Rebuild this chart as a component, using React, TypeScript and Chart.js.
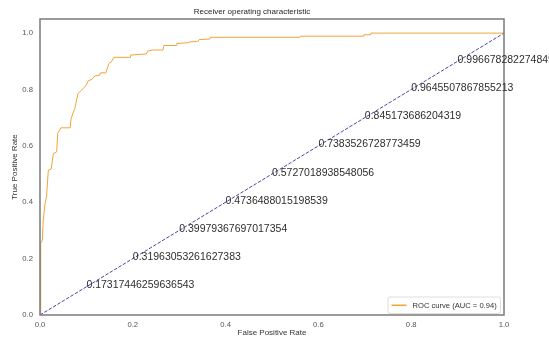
import React, { useEffect, useRef } from "react";
import { Chart, registerables } from "chart.js";

Chart.register(...registerables);

const chartTitle = "Receiver operating characteristic";
const xAxisTitle = "False Positive Rate";
const yAxisTitle = "True Positive Rate";
const rocLabel = "ROC curve (AUC = 0.94)";

const fpr = [
  0, 0.0015, 0.0015, 0.005, 0.007, 0.011, 0.014, 0.018, 0.024, 0.029, 0.036, 0.038, 0.045, 0.065,
  0.067, 0.075, 0.082, 0.09, 0.1, 0.104, 0.112, 0.118, 0.129, 0.13, 0.142, 0.145, 0.149, 0.154,
  0.159, 0.194, 0.195, 0.229, 0.232, 0.244, 0.265, 0.267, 0.294, 0.295, 0.319, 0.323, 0.34, 0.343,
  0.366, 0.367, 0.56, 0.561, 0.697, 0.698, 0.712, 0.713, 1.0,
];
const tpr = [
  0, 0.089, 0.254, 0.266, 0.337, 0.396, 0.42, 0.514, 0.518, 0.573, 0.579, 0.644, 0.664, 0.664,
  0.697, 0.733, 0.786, 0.798, 0.816, 0.831, 0.836, 0.848, 0.851, 0.859, 0.859, 0.875, 0.893, 0.898,
  0.914, 0.914, 0.922, 0.926, 0.936, 0.94, 0.94, 0.956, 0.956, 0.963, 0.966, 0.969, 0.97, 0.977,
  0.979, 0.985, 0.985, 0.989, 0.989, 0.994, 0.994, 1.0, 1.0,
];

const chanceX = [0, 1];
const chanceY = [0, 1];

const thresholdPos = [0.1, 0.2, 0.3, 0.4, 0.5, 0.6, 0.7, 0.8, 0.9];
const thresholdLabels = [
  "0.17317446259636543",
  "0.31963053261627383",
  "0.39979367697017354",
  "0.4736488015198539",
  "0.5727018938548056",
  "0.7383526728773459",
  "0.845173686204319",
  "0.9645507867855213",
  "0.9966782822748492",
];

const xTicks = [0, 0.2, 0.4, 0.6, 0.8, 1.0];
const yTicks = [0, 0.2, 0.4, 0.6, 0.8, 1.0];
const xRange = [0, 1.0];
const yRange = [0, 1.05];

const FONT = "'Liberation Sans', Arial, sans-serif";

const frameAndAnnotations = {
  id: "frameAndAnnotations",
  afterDraw(chart: any) {
    const { ctx, chartArea, scales } = chart;
    const xs = scales.x;
    const ys = scales.y;
    ctx.save();
    // frame
    ctx.strokeStyle = "#7a7a7a";
    ctx.lineWidth = 1.5;
    ctx.strokeRect(
      chartArea.left,
      chartArea.top,
      chartArea.right - chartArea.left,
      chartArea.bottom - chartArea.top
    );
    // threshold labels
    ctx.fillStyle = "#2e2e2e";
    ctx.font = `10.5px ${FONT}`;
    ctx.textAlign = "left";
    ctx.textBaseline = "alphabetic";
    thresholdPos.forEach((v, i) => {
      const px = xs.getPixelForValue(v);
      const py = ys.getPixelForValue(v);
      ctx.fillText(thresholdLabels[i], px, py + 1.5);
    });
    // legend
    const ds = chart.data.datasets[0];
    const lx = chartArea.right - 116;
    const ly = chartArea.bottom - 18;
    const lw = 112.5;
    const lh = 16.5;
    ctx.beginPath();
    ctx.roundRect(lx, ly, lw, lh, 2);
    ctx.fillStyle = "rgba(255,255,255,0.85)";
    ctx.fill();
    ctx.strokeStyle = "#d6d6d6";
    ctx.lineWidth = 0.8;
    ctx.stroke();
    ctx.beginPath();
    ctx.moveTo(lx + 3.5, ly + lh / 2);
    ctx.lineTo(lx + 18.5, ly + lh / 2);
    ctx.strokeStyle = ds.borderColor;
    ctx.lineWidth = 1.5;
    ctx.stroke();
    ctx.fillStyle = "#333";
    ctx.font = `7.6px ${FONT}`;
    ctx.textBaseline = "middle";
    ctx.fillText(ds.label, lx + 24.5, ly + lh / 2 + 0.5);
    ctx.restore();
  },
};

export default function App() {
  const ref = useRef<HTMLCanvasElement | null>(null);

  useEffect(() => {
    document.body.style.margin = "0";
    const canvas = ref.current;
    if (!canvas) return;
    Chart.defaults.font.family = FONT;
    const chart = new Chart(canvas, {
      type: "line",
      data: {
        datasets: [
          {
            label: rocLabel,
            data: fpr.map((x, i) => ({ x, y: tpr[i] })),
            borderColor: "#f2a33a",
            borderWidth: 1,
            pointRadius: 0,
            tension: 0,
            fill: false,
          },
          {
            label: "chance",
            data: chanceX.map((x, i) => ({ x, y: chanceY[i] })),
            borderColor: "#4646a6",
            borderWidth: 1,
            borderDash: [3.5, 1.6],
            pointRadius: 0,
            fill: false,
          },
        ],
      },
      options: {
        responsive: false,
        animation: false,
        events: [],
        layout: { padding: { left: 0, right: 45, top: 0, bottom: 0 } },
        plugins: {
          legend: { display: false },
          tooltip: { enabled: false },
          title: {
            display: true,
            text: chartTitle,
            color: "#262626",
            font: { size: 8, weight: "normal", family: FONT, lineHeight: 1.2 },
            padding: { top: 7, bottom: 2.4 },
          },
        },
        scales: {
          x: {
            type: "linear",
            min: xRange[0],
            max: xRange[1],
            afterFit(scale: any) {
              scale.height = 23;
            },
            afterBuildTicks(scale: any) {
              scale.ticks = xTicks.map((v) => ({ value: v }));
            },
            grid: { display: false, drawTicks: false },
            border: { display: false },
            ticks: {
              color: "#555",
              font: { size: 7.7 },
              padding: 5,
              maxRotation: 0,
              callback: (v: any) => Number(v).toFixed(1),
            },
            title: {
              display: true,
              text: xAxisTitle,
              color: "#333",
              font: { size: 8 },
              padding: { top: 0, bottom: 0 },
            },
          },
          y: {
            type: "linear",
            min: yRange[0],
            max: yRange[1],
            afterFit(scale: any) {
              scale.width = 40;
            },
            afterBuildTicks(scale: any) {
              scale.ticks = yTicks.map((v) => ({ value: v }));
            },
            grid: { display: false, drawTicks: false },
            border: { display: false },
            ticks: {
              color: "#555",
              font: { size: 7.7 },
              padding: 7,
              callback: (v: any) => Number(v).toFixed(1),
            },
            title: {
              display: true,
              text: yAxisTitle,
              color: "#333",
              font: { size: 8 },
              padding: { top: 10, bottom: 0 },
            },
          },
        },
      },
      plugins: [frameAndAnnotations],
    });
    return () => chart.destroy();
  }, []);

  return (
    <div style={{ width: 549, height: 338 }}>
      <canvas ref={ref} width={549} height={338} />
    </div>
  );
}
